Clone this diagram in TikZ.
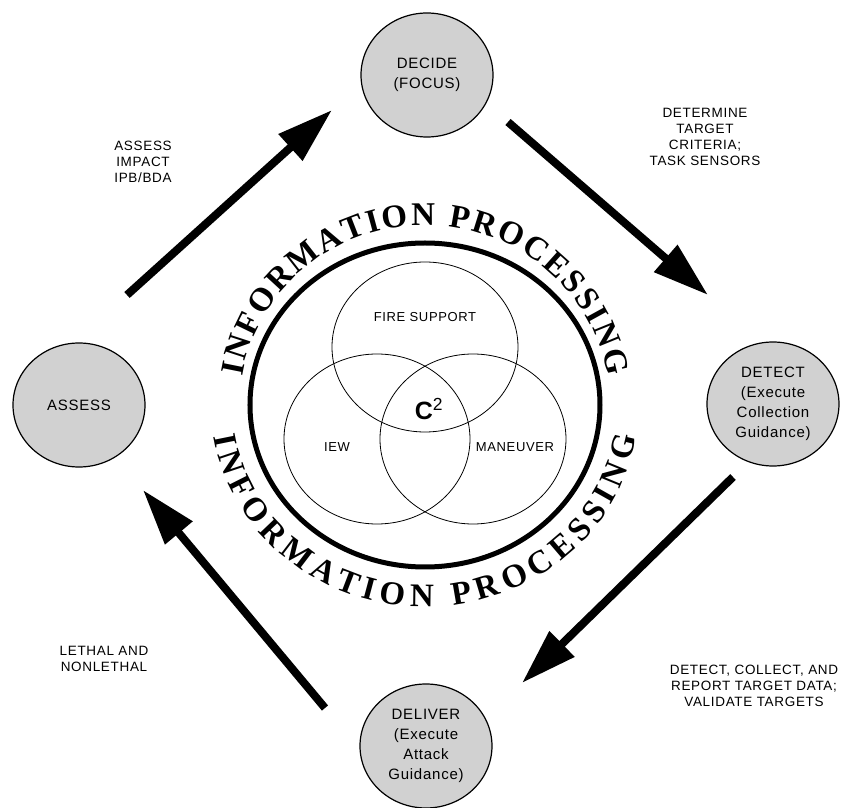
\documentclass[tikz,border=0pt]{standalone}
\usepackage{fontspec}
\setmainfont{Liberation Serif}
\setsansfont[LetterSpace=5]{Liberation Sans}
\usetikzlibrary{arrows.meta,shapes.geometric,decorations.text}
\definecolor{phasegray}{gray}{0.82}
\begin{document}
\begin{tikzpicture}[x=1pt,y=1pt,
	phase/.style={ellipse,draw,line width=1.2pt,fill=phasegray,minimum width=132pt,minimum height=124pt,inner sep=0pt,align=center,font=\sffamily\fontsize{15}{20}\selectfont},
	note/.style={align=center,font=\sffamily\fontsize{13.5}{16}\selectfont},
	flow/.style={line width=8pt,-{Triangle[length=56pt,width=34pt]}},
	venn/.style={line width=0.8pt},
	area/.style={font=\sffamily\fontsize{13}{13}\selectfont}]
		\useasboundingbox (-425,-403) rectangle (419,405);
		% the four phases
		\node[phase] (decide) at (2,330) {DECIDE\\(FOCUS)};
		\node[phase] (detect) at (348,1) {DETECT\\(Execute\\Collection\\Guidance)};
		\node[phase] (deliver) at (1,-341) {DELIVER\\(Execute\\Attack\\Guidance)};
		\node[phase] (assess) at (-346,0) {ASSESS};
		% cycle arrows
		\draw[flow] ([shift={(48,110)}]assess.center) -- ([shift={(-95,-35)}]decide.center);
		\draw[flow] ([shift={(81,-47)}]decide.center) -- ([shift={(-65,109)}]detect.center);
		\draw[flow] ([shift={(-40,-73)}]detect.center) -- ([shift={(96,63)}]deliver.center);
		\draw[flow] ([shift={(-101,38)}]deliver.center) -- ([shift={(64,-85)}]assess.center);
		% notes beside the arrows
		\node[note] (impact) at (-282,243) {ASSESS\\IMPACT\\IPB/BDA};
		\node[note] (criteria) at (280,268) {DETERMINE\\TARGET\\CRITERIA;\\TASK SENSORS};
		\node[note] (report) at (329,-281) {DETECT, COLLECT, AND\\REPORT TARGET DATA;\\VALIDATE TARGETS};
		\node[note] (lethal) at (-321,-254) {LETHAL AND\\NONLETHAL};
		% C2 ring
		\draw[line width=5pt] (0,0) ellipse [x radius=175,y radius=162];
		\draw[venn] (0,58) ellipse [x radius=93,y radius=85];
		\draw[venn] (-48,-34) ellipse [x radius=93,y radius=85];
		\draw[venn] (48,-34) ellipse [x radius=93,y radius=85];
		\node[area] (fires) at (0,88) {FIRE SUPPORT};
		\node[area] (iew) at (-88,-42) {IEW};
		\node[area] (maneuver) at (90,-42) {MANEUVER};
		\node (ctwo) at (4,-4) {\sffamily\fontsize{25}{25}\selectfont\bfseries C\textsuperscript{\mdseries 2}};
		\path[decorate,decoration={text along path,text align={fit to path},
			text={|\bfseries\fontsize{33}{33}\selectfont|INFORMATION PROCESSING}}]
			(171:185 and 180) arc[start angle=171,end angle=9,x radius=185,y radius=180];
		\path[decorate,decoration={text along path,text align={fit to path},
			text={|\bfseries\fontsize{33}{33}\selectfont|INFORMATION PROCESSING}}]
			(189:214 and 202) arc[start angle=189,end angle=351,x radius=214,y radius=202];
	\end{tikzpicture}
\end{document}
